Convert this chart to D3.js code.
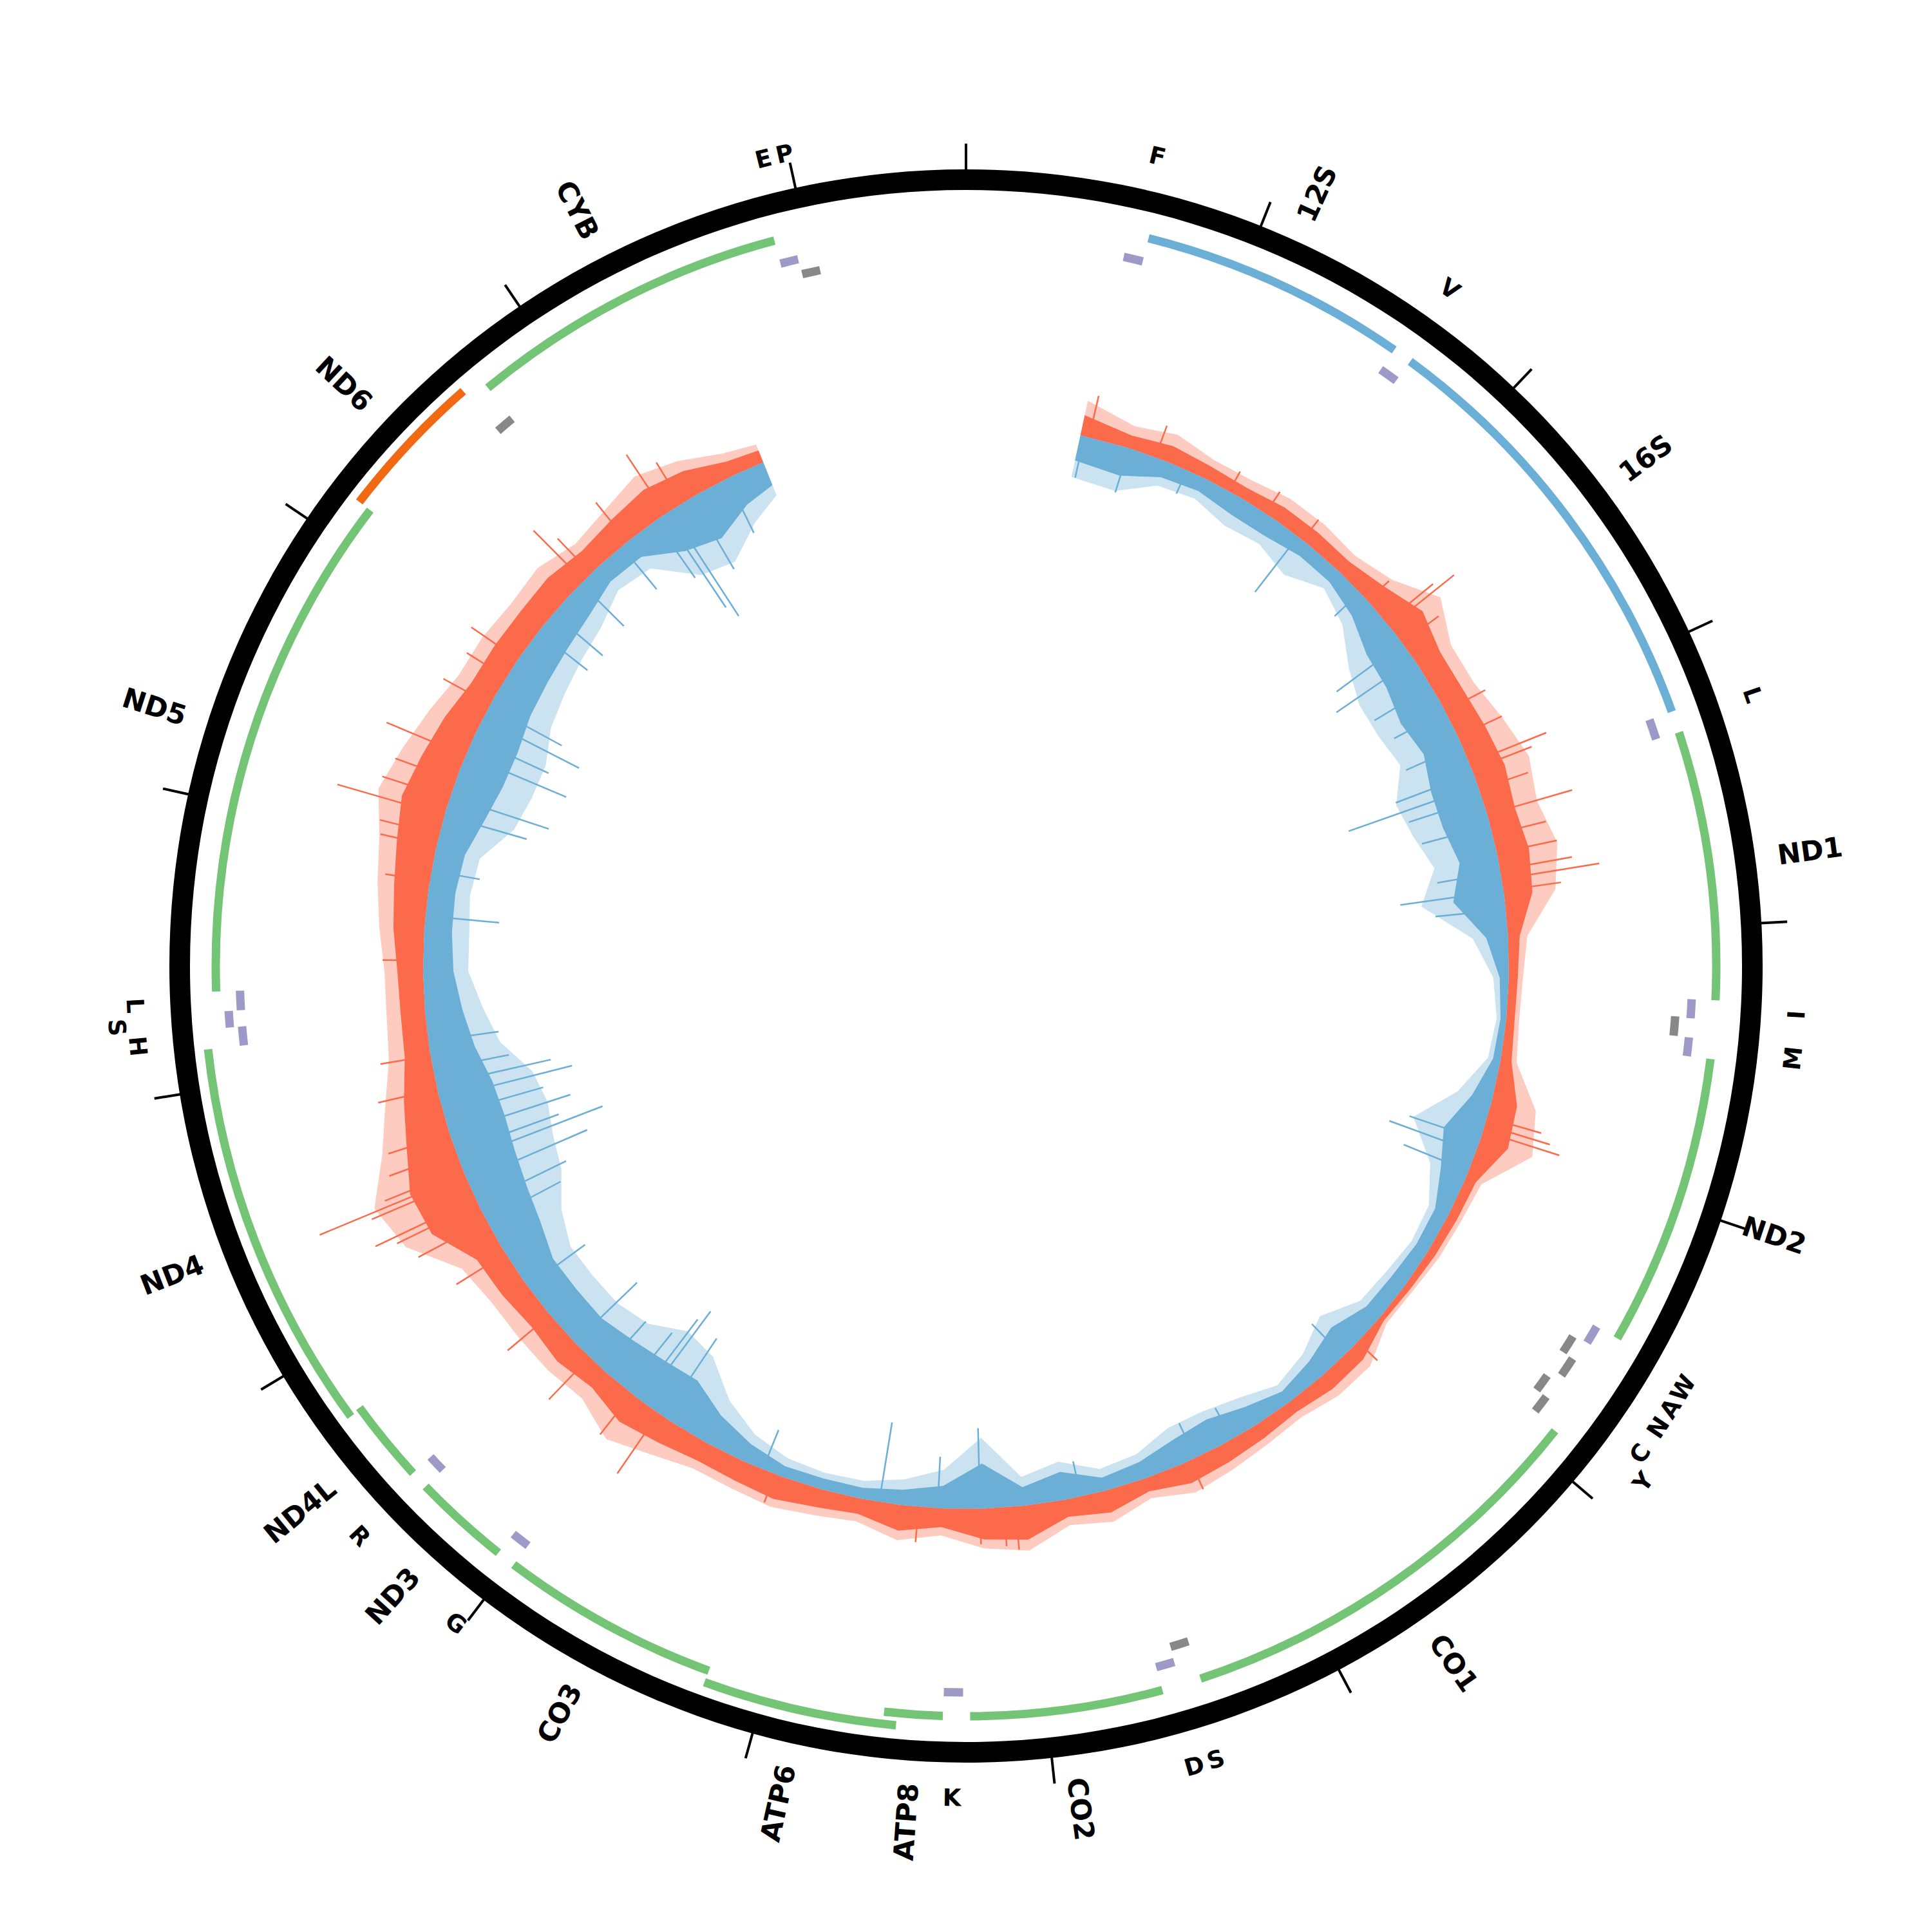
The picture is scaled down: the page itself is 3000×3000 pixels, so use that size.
<!DOCTYPE html>
<html>
<head>
<meta charset="utf-8">
<script src="https://cdn.jsdelivr.net/npm/d3@7"></script>
<style>
  body { margin: 0; background: #fff; }
  text { font-family: "DejaVu Sans", sans-serif; fill: #000; }
</style>
</head>
<body>
<svg id="chart" width="3000" height="3000"></svg>
<script>
(function (d3) {
  'use strict';

  const genomeLength = 16569;

  // annotated features (start, end in bp)
  const featName  = ['F', '12S', 'V', '16S', 'L', 'ND1', 'I', 'Q', 'M', 'ND2', 'W', 'A', 'N', 'C', 'Y', 'CO1', 'S', 'D', 'CO2', 'K', 'ATP8', 'ATP6', 'CO3', 'G', 'ND3', 'R', 'ND4L', 'ND4', 'H', 'S', 'L', 'ND5', 'ND6', 'E', 'CYB', 'T', 'P'];
  const featStart = [577, 648, 1602, 1671, 3230, 3307, 4263, 4329, 4402, 4470, 5512, 5587, 5657, 5761, 5826, 5904, 7446, 7518, 7586, 8295, 8366, 8527, 9207, 9991, 10059, 10405, 10470, 10760, 12138, 12207, 12266, 12337, 14149, 14674, 14747, 15888, 15956];
  const featEnd   = [647, 1601, 1670, 3229, 3304, 4262, 4331, 4400, 4469, 5511, 5579, 5655, 5729, 5826, 5891, 7445, 7514, 7585, 8269, 8364, 8572, 9207, 9990, 10058, 10404, 10469, 10766, 12137, 12206, 12265, 12336, 14148, 14673, 14742, 15887, 15953, 16023];
  const featKind  = ['trnaH', 'rrna', 'trnaH', 'rrna', 'trnaH', 'cds', 'trnaH', 'trnaL', 'trnaH', 'cds', 'trnaH', 'trnaL', 'trnaL', 'trnaL', 'trnaL', 'cds', 'trnaL', 'trnaH', 'cds', 'trnaH', 'cds', 'cds', 'cds', 'trnaH', 'cds', 'trnaH', 'cds', 'cds', 'trnaH', 'trnaH', 'trnaH', 'cds', 'cdsL', 'trnaL', 'cds', 'trnaH', 'trnaL'];
  const featLane  = [0, 0, 0, 0, 0, 0, 0, 0, 0, 0, 0, 0, 1, 0, 1, 0, 0, 0, 0, 0, 0, 1, 0, 0, 0, 0, 0, 1, 0, 1, 0, 0, 1, 0, 0, 0, 0];
  const featLabel = ['F', '12S', 'V', '16S', 'L', 'ND1', 'I', '', 'M', 'ND2', 'W', 'A', 'N', 'C', 'Y', 'CO1', 'S', 'D', 'CO2', 'K', 'ATP8', 'ATP6', 'CO3', 'G', 'ND3', 'R', 'ND4L', 'ND4', 'H', 'S', 'L', 'ND5', 'ND6', '', 'CYB', 'E', 'P'];
  const labelLift = [0, 0, 0, 0, 0, 0, 0, 0, 0, 0, 0, 0, 0, 0, 1, 0, 0, 0, 0, 0, 0, 0, 0, 0, 0, 0, 0, 0, 0, 1, 0, 0, 0, 0, 0, 0, 0];

  // coverage profile, sampled positions (bp)
  const covPos = [560, 800, 1000, 1200, 1400, 1600, 1800, 2000, 2200, 2400, 2600, 2800, 3000, 3200, 3400, 3600, 3800, 4000, 4200, 4400, 4600, 4800, 5000, 5200, 5400, 5600, 5800, 6000, 6200, 6400, 6600, 6800, 7000, 7200, 7400, 7600, 7800, 8000, 8200, 8400, 8600, 8800, 9000, 9200, 9400, 9600, 9800, 10000, 10200, 10400, 10600, 10800, 11000, 11200, 11400, 11600, 11800, 12000, 12200, 12400, 12600, 12800, 13000, 13200, 13400, 13600, 13800, 14000, 14200, 14400, 14600, 14800, 15000, 15200, 15400, 15560];
  // bulk depth of the dense bars, and the ragged upper edge they reach
  const fwdBulk = [32, 20, 26, 21, 18, 24, 24, 22, 34, 55, 40, 40, 45, 50, 44, 50, 44, 18, 14, 13, 17, 40, 45, 17, 15, 13, 10, 8, 25, 26, 19, 24, 29, 33, 21, 35, 27, 53, 48, 29, 40, 24, 29, 37, 33, 31, 38, 46, 32, 40, 34, 40, 43, 85, 90, 70, 55, 40, 38, 40, 48, 54, 62, 72, 63, 54, 42, 42, 41, 43, 35, 42, 50, 42, 24, 20];
  const fwdEdge = [55, 35, 45, 32, 32, 40, 40, 35, 50, 90, 60, 60, 75, 90, 80, 95, 80, 30, 22, 20, 25, 70, 85, 26, 22, 20, 15, 14, 40, 40, 30, 35, 42, 49, 32, 50, 40, 70, 62, 42, 55, 36, 42, 50, 46, 45, 60, 80, 55, 60, 60, 60, 70, 130, 150, 110, 85, 65, 60, 60, 70, 80, 90, 110, 95, 80, 65, 65, 60, 65, 50, 60, 75, 60, 38, 30];
  const revBulk = [40, 45, 26, 22, 30, 30, 22, 22, 34, 55, 60, 70, 60, 72, 72, 60, 80, 34, 14, 9, 12, 32, 60, 42, 23, 21, 25, 27, 45, 30, 20, 33, 46, 40, 27, 21, 44, 29, 70, 35, 24, 17, 17, 17, 29, 48, 76, 72, 65, 56, 57, 57, 72, 80, 86, 90, 86, 70, 58, 47, 43, 42, 46, 62, 72, 72, 63, 58, 52, 44, 30, 32, 65, 78, 50, 38];
  const revEdge = [66, 70, 40, 35, 50, 45, 60, 35, 54, 90, 110, 110, 100, 130, 120, 100, 130, 55, 24, 15, 20, 55, 110, 60, 34, 30, 36, 40, 70, 45, 32, 50, 60, 60, 40, 35, 60, 45, 110, 60, 40, 28, 26, 30, 45, 75, 120, 130, 100, 90, 90, 90, 110, 140, 150, 160, 150, 110, 90, 70, 70, 65, 70, 110, 120, 120, 100, 90, 80, 70, 48, 55, 110, 120, 80, 55];

  // isolated high peaks
  const fwdPeakPos = [603, 939, 1335, 1542, 1763, 2195, 2334, 2361, 2462, 2854, 2992, 3134, 3167, 3268, 3397, 3498, 3590, 3673, 3719, 3774, 4888, 4925, 4957, 6158, 7162, 8045, 8100, 8216, 8515, 9233, 9872, 10033, 10305, 10586, 10954, 11138, 11230, 11258, 11364, 11387, 11414, 11506, 11598, 11824, 11989, 12454, 12841, 13011, 13071, 13168, 13255, 13347, 13476, 13752, 13904, 14010, 14507, 14558, 14792, 15023, 15115];
  const fwdPeakVal = [66, 52, 35, 40, 40, 45, 94, 128, 70, 70, 75, 128, 99, 80, 137, 85, 95, 113, 153, 90, 87, 105, 124, 42, 49, 67, 60, 55, 55, 47, 113, 80, 91, 86, 90, 120, 140, 172, 160, 244, 130, 110, 100, 94, 79, 63, 70, 89, 95, 173, 110, 100, 133, 83, 72, 88, 110, 75, 78, 110, 75];
  const revPeakPos = [580, 805, 1105, 1735, 2140, 2462, 2559, 2715, 2854, 3038, 3185, 3249, 3314, 3452, 3682, 3774, 3866, 5003, 5067, 5164, 6259, 6931, 7134, 7723, 8216, 8423, 8708, 9297, 9840, 9964, 9997, 10066, 10218, 10406, 10761, 11138, 11230, 11350, 11456, 11506, 11598, 11690, 11773, 11842, 11920, 12059, 12671, 12892, 13168, 13264, 13481, 13568, 13674, 13743, 14176, 14291, 14489, 14756, 14962, 15013, 15050, 15174, 15368];
  const revPeakVal = [66, 72, 40, 109, 54, 127, 146, 103, 90, 95, 129, 213, 120, 110, 100, 162, 110, 116, 143, 109, 70, 55, 60, 56, 125, 80, 125, 66, 147, 176, 154, 113, 100, 134, 110, 130, 152, 202, 238, 170, 197, 160, 212, 182, 120, 110, 115, 76, 133, 161, 169, 129, 168, 128, 97, 101, 94, 86, 108, 173, 195, 129, 94];

  const kindColor = { cds: '#74c476', cdsL: '#f16913', rrna: '#6baed6', trnaH: '#9e9ac8', trnaL: '#888888' };
  const kindRadius = { cds: [1165, 1184], cdsL: [1186, 1186], rrna: [1165, 1184], trnaH: [1128, 1147], trnaL: [1104, 1122] };
  const fwdColor = '#fb6a4a', revColor = '#6baed6';

  const svg = d3.select('#chart');
  svg.append('rect').attr('width', 3000).attr('height', 3000).attr('fill', '#fff');
  const root = svg.append('g').attr('transform', 'translate(1500,1500)');

  const angle = d3.scaleLinear().domain([0, genomeLength]).range([0, 2 * Math.PI]);
  const deg = p => p / genomeLength * 360;

  // ---- coverage histogram
  const baseR = 843;
  const depth = d3.scaleLinear().domain([0, 250]).range([0, 250]);
  const cov = covPos.map((p, i) => ({
    pos: p, fBulk: fwdBulk[i], fEdge: fwdEdge[i], rBulk: revBulk[i], rEdge: revEdge[i]
  }));

  const covG = root.append('g');
  const outward = key => d3.areaRadial().angle(d => angle(d.pos))
    .innerRadius(baseR).outerRadius(d => baseR + depth(d[key]));
  const inward = key => d3.areaRadial().angle(d => angle(d.pos))
    .innerRadius(d => baseR - depth(d[key])).outerRadius(baseR);

  // ragged edge (thin bars mixed with gaps) drawn lighter, bulk drawn solid
  covG.append('path').datum(cov).attr('d', outward('fEdge')).attr('fill', fwdColor).attr('fill-opacity', 0.35);
  covG.append('path').datum(cov).attr('d', inward('rEdge')).attr('fill', revColor).attr('fill-opacity', 0.35);
  covG.append('path').datum(cov).attr('d', outward('fBulk')).attr('fill', fwdColor);
  covG.append('path').datum(cov).attr('d', inward('rBulk')).attr('fill', revColor);

  const peak = (sel, pos, val, dir, color) => {
    sel.selectAll(null).data(d3.zip(pos, val)).join('line')
      .attr('x1', d => d3.pointRadial(angle(d[0]), baseR)[0])
      .attr('y1', d => d3.pointRadial(angle(d[0]), baseR)[1])
      .attr('x2', d => d3.pointRadial(angle(d[0]), baseR + dir * depth(d[1]))[0])
      .attr('y2', d => d3.pointRadial(angle(d[0]), baseR + dir * depth(d[1]))[1])
      .attr('stroke', color)
      .attr('stroke-width', 2.5);
  };
  peak(covG, fwdPeakPos, fwdPeakVal, 1, fwdColor);
  peak(covG, revPeakPos, revPeakVal, -1, revColor);

  // ---- outer ring and ticks
  root.append('path')
    .attr('d', d3.arc()({ innerRadius: 1205, outerRadius: 1237, startAngle: 0, endAngle: 2 * Math.PI }))
    .attr('fill', '#000');

  root.selectAll('.tick').data(d3.range(0, genomeLength, 1000)).join('line')
    .attr('class', 'tick')
    .attr('x1', d => d3.pointRadial(angle(d), 1230)[0])
    .attr('y1', d => d3.pointRadial(angle(d), 1230)[1])
    .attr('x2', d => d3.pointRadial(angle(d), 1277)[0])
    .attr('y2', d => d3.pointRadial(angle(d), 1277)[1])
    .attr('stroke', '#000')
    .attr('stroke-width', 4);

  // ---- feature track
  const feats = featName.map((n, i) => ({
    name: n, start: featStart[i], end: featEnd[i], kind: featKind[i], lane: featLane[i], label: featLabel[i], lift: labelLift[i]
  }));
  const half = 6.5;
  root.append('g').selectAll('path').data(feats).join('path')
    .attr('d', d => {
      const r = kindRadius[d.kind][d.lane];
      return d3.arc()({ innerRadius: r - half, outerRadius: r + half, startAngle: angle(d.start), endAngle: angle(d.end + 1) });
    })
    .attr('fill', d => kindColor[d.kind]);

  // ---- labels
  const bigLabels = feats.filter(d => d.label && !d.kind.startsWith('trna'));
  root.append('g').selectAll('text').data(bigLabels).join('text')
    .attr('transform', d => {
      const a = deg((d.start + d.end) / 2);
      return a < 180 ? `rotate(${a - 90}) translate(1272,0)` : `rotate(${a + 90}) translate(-1272,0)`;
    })
    .attr('text-anchor', d => deg((d.start + d.end) / 2) < 180 ? 'start' : 'end')
    .attr('dominant-baseline', 'central')
    .attr('font-size', 43)
    .attr('font-weight', 'bold')
    .text(d => d.label);

  const smallLabels = feats.filter(d => d.label && d.kind.startsWith('trna'));
  root.append('g').selectAll('text').data(smallLabels).join('text')
    .attr('transform', d => {
      const m = (d.start + d.end) / 2;
      const a = deg(m);
      const [x, y] = d3.pointRadial(angle(m), 1292 + d.lift * 30);
      const rot = (a < 90 || a > 270) ? a : a - 180;
      return `translate(${x},${y}) rotate(${rot})`;
    })
    .attr('text-anchor', 'middle')
    .attr('dominant-baseline', 'central')
    .attr('font-size', 37)
    .attr('font-weight', 'bold')
    .text(d => d.label);

}(d3));
</script>
</body>
</html>
